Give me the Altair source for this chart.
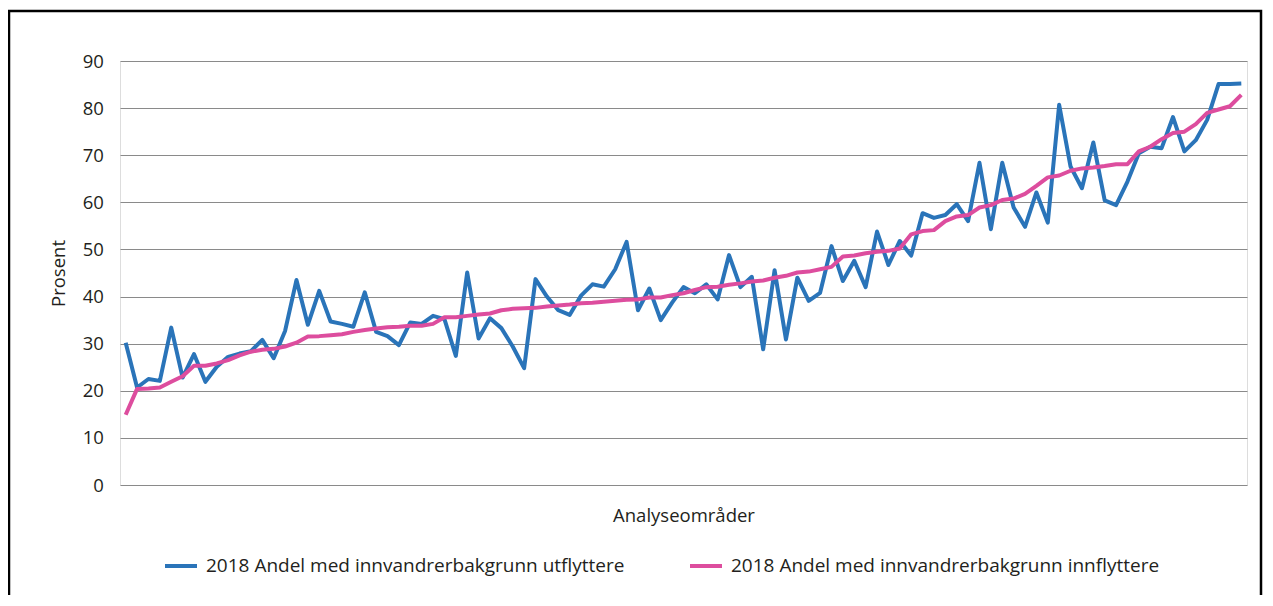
import altair as alt
import pandas as pd

# ---- data ----
omraader = list(range(99))  # analyseområder (index on the category axis)

utflyttere = [30.2, 20.7, 22.5, 22.1, 33.4, 22.8, 27.8, 21.9, 25.1, 27.2,
              27.9, 28.4, 30.8, 26.9, 32.7, 43.5, 34.0, 41.2, 34.7, 34.2,
              33.6, 40.9, 32.5, 31.6, 29.7, 34.5, 34.2, 35.9, 35.2, 27.4,
              45.1, 31.1, 35.4, 33.3, 29.4, 24.8, 43.7, 40.0, 37.1, 36.1,
              40.2, 42.6, 42.1, 45.8, 51.6, 37.1, 41.7, 35.0, 38.7, 42.0,
              40.7, 42.6, 39.4, 48.8, 42.0, 44.2, 28.8, 45.6, 30.9, 44.0,
              39.1, 40.8, 50.7, 43.3, 47.6, 42.0, 53.8, 46.7, 51.8, 48.7,
              57.7, 56.7, 57.3, 59.6, 56.0, 68.4, 54.3, 68.4, 58.9, 54.8,
              62.1, 55.7, 80.7, 67.6, 63.0, 72.7, 60.4, 59.4, 64.4, 70.4,
              71.8, 71.5, 78.1, 70.8, 73.2, 77.5, 85.1, 85.1, 85.2]

innflyttere = [14.9, 20.4, 20.5, 20.7, 21.9, 23.1, 25.3, 25.3, 25.8, 26.5,
               27.5, 28.3, 28.7, 28.9, 29.4, 30.2, 31.5, 31.6, 31.8, 32.0,
               32.5, 32.9, 33.2, 33.5, 33.6, 33.8, 33.8, 34.2, 35.6, 35.6,
               35.9, 36.2, 36.4, 37.1, 37.4, 37.5, 37.6, 37.9, 38.1, 38.3,
               38.6, 38.7, 38.9, 39.1, 39.3, 39.4, 39.8, 39.8, 40.3, 40.7,
               41.4, 42.0, 42.1, 42.5, 42.8, 43.2, 43.4, 44.0, 44.4, 45.1,
               45.3, 45.8, 46.3, 48.5, 48.7, 49.2, 49.5, 49.7, 50.2, 53.2,
               53.9, 54.1, 56.0, 57.0, 57.3, 58.9, 59.4, 60.5, 60.8, 61.8,
               63.5, 65.3, 65.7, 66.7, 67.2, 67.4, 67.7, 68.1, 68.1, 70.8,
               71.8, 73.4, 74.7, 75.0, 76.6, 79.0, 79.7, 80.4, 82.8]

serier = ["2018 Andel med innvandrerbakgrunn utflyttere",
          "2018 Andel med innvandrerbakgrunn innflyttere"]
y_ticks = [0, 10, 20, 30, 40, 50, 60, 70, 80, 90]

df = pd.DataFrame({
    "omr": omraader + omraader,
    "verdi": utflyttere + innflyttere,
    "serie": [serier[0]] * len(omraader) + [serier[1]] * len(omraader),
})

FONT = "Open Sans"
TXT = "#231f20"
BLUE = "#2a74b9"
PINK = "#dd4d9e"

lines = alt.Chart(df).mark_line(strokeWidth=4, strokeJoin="round").encode(
    x=alt.X("omr:Q",
            scale=alt.Scale(domain=[-0.5, 98.5], nice=False, zero=False),
            axis=alt.Axis(title="Analyseområder", labels=False, ticks=False,
                          domain=False, grid=False, titlePadding=21,
                          titleFont=FONT, titleFontSize=18.5,
                          titleFontWeight="normal", titleColor=TXT)),
    y=alt.Y("verdi:Q",
            scale=alt.Scale(domain=[0, 90], nice=False),
            axis=alt.Axis(values=y_ticks, title="Prosent", domain=False,
                          ticks=False, grid=True, gridColor="#8a8a8a",
                          gridWidth=1, labelPadding=16.7, labelFont=FONT,
                          labelFontSize=18.5, labelColor=TXT,
                          titleFont=FONT, titleFontSize=18.5,
                          titleFontWeight="normal", titleColor=TXT,
                          titlePadding=14)),
    color=alt.Color("serie:N",
                    scale=alt.Scale(domain=serier, range=[BLUE, PINK]),
                    legend=alt.Legend(title=None, orient="none", legendX=43,
                                      legendY=487, direction="horizontal",
                                      symbolType="stroke", symbolSize=1024,
                                      symbolStrokeWidth=4, labelFont=FONT,
                                      labelFontSize=19, labelColor=TXT,
                                      labelOffset=7, columnPadding=57,
                                      labelLimit=0, padding=0)),
)

frame = alt.Chart(alt.Data(values=[{"f": 1}])).mark_rect(
    fill="transparent", stroke="#000000", strokeWidth=2.5
).encode(
    x=alt.value(-111), x2=alt.value(1141),
    y=alt.value(-50), y2=alt.value(620),
)

chart = alt.layer(lines, frame).properties(
    width=1127, height=424,
    autosize=alt.AutoSizeParams(type="none"),
    padding={"left": 112, "top": 53, "right": 16, "bottom": 110},
).configure_view(stroke="transparent").configure(background="white")

chart.save("out.html", embed_options={"renderer": "svg", "actions": False})
